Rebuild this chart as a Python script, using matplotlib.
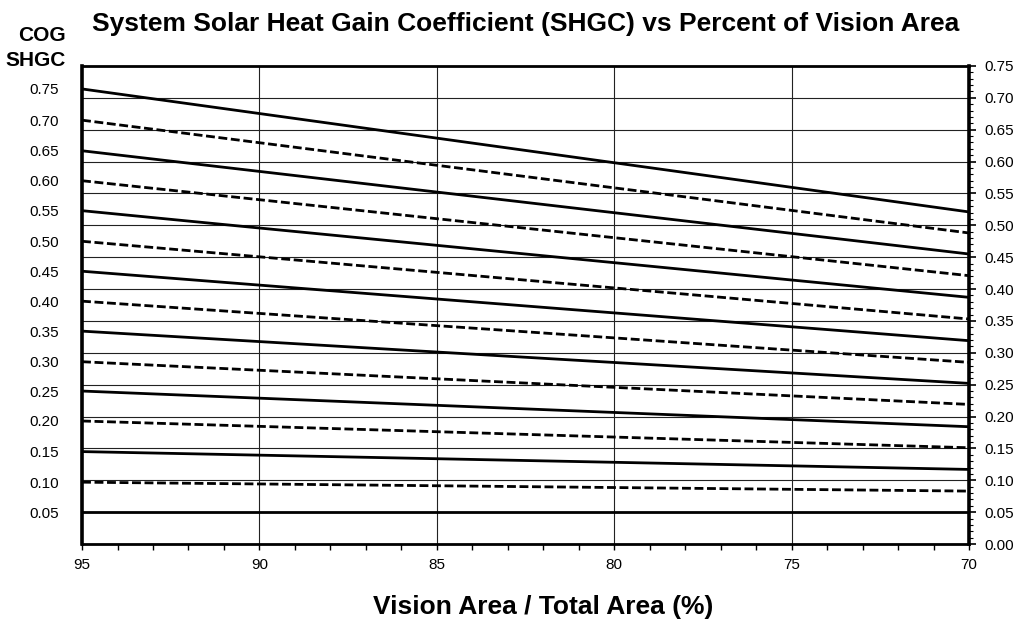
import numpy as np
import matplotlib
matplotlib.use("Agg")
import matplotlib.pyplot as plt
from matplotlib.ticker import MultipleLocator, FormatStrFormatter

plt.rcParams['font.family'] = ['Liberation Sans', 'DejaVu Sans']

# vision area / total area (%) at the two ends of each line
vision_area = [95, 70]

# centre-of-glass SHGC, one line each (labels on the left)
cog_shgc = [0.75, 0.70, 0.65, 0.60, 0.55, 0.50, 0.45, 0.40,
            0.35, 0.30, 0.25, 0.20, 0.15, 0.10, 0.05]

# system SHGC read on the right axis at 95 % and at 70 %
system_at_95 = [0.714, 0.665, 0.617, 0.570, 0.523, 0.475, 0.428, 0.381,
                0.334, 0.286, 0.240, 0.193, 0.145, 0.097, 0.050]
system_at_70 = [0.521, 0.488, 0.455, 0.421, 0.387, 0.353, 0.319, 0.285,
                0.252, 0.219, 0.184, 0.151, 0.117, 0.083, 0.050]

fig = plt.figure(figsize=(10.19, 6.22), dpi=100)
ax = fig.add_axes([0.0805, 0.1254, 0.8705, 0.7685])
# twin axis for the COG labels on the left
axl = ax.twinx()

for c, y0, y1 in zip(cog_shgc, system_at_95, system_at_70):
    solid = round(c * 100) % 10 == 5
    line, = ax.plot(vision_area, [y0, y1], color='black', lw=2.0,
                    solid_capstyle='butt', zorder=3)
    if not solid:
        line.set_dashes((3.2, 1.3))

ax.set_xlim(95, 70)
ax.set_ylim(0, 0.75)

# x axis
ax.xaxis.set_major_locator(MultipleLocator(5))
ax.xaxis.set_minor_locator(MultipleLocator(1))
ax.tick_params(axis='x', which='both', direction='out', length=4,
               width=1.0, labelsize=11, pad=6)

# right axis = system SHGC
ax.yaxis.tick_right()
ax.yaxis.set_major_locator(MultipleLocator(0.05))
ax.yaxis.set_minor_locator(MultipleLocator(0.01))
ax.yaxis.set_major_formatter(FormatStrFormatter('%.2f'))
ax.tick_params(axis='y', which='major', direction='out', length=5,
               width=1.2, labelsize=11, pad=6)
ax.tick_params(axis='y', which='minor', direction='out', length=3, width=0.8)

ax.grid(True, which='major', color='#222222', lw=0.8, zorder=1)
ax.set_axisbelow(True)
for s in ax.spines.values():
    s.set_linewidth(2.0)
ax.spines['left'].set_linewidth(2.6)
ax.spines['right'].set_linewidth(2.6)

# left labels = COG SHGC at the start of every line
axl.set_ylim(ax.get_ylim())
axl.yaxis.tick_left()
axl.set_yticks(system_at_95, labels=[f'{c:.2f}' for c in cog_shgc])
axl.tick_params(axis='y', length=0, labelsize=11, pad=16.5)
for s in axl.spines.values():
    s.set_visible(False)

ax.set_title('System Solar Heat Gain Coefficient (SHGC) vs Percent of Vision Area',
             fontsize=19, fontweight='bold', pad=25)
fig.text(66 / 1019, 1 - 48 / 622, 'COG\nSHGC', ha='right', va='center',
         multialignment='right', fontsize=15, fontweight='bold',
         linespacing=1.4)
fig.text(543 / 1019, 1 - 607 / 622, 'Vision Area / Total Area (%)',
         ha='center', va='center', fontsize=19, fontweight='bold')

fig.savefig('out.png', dpi=100)
